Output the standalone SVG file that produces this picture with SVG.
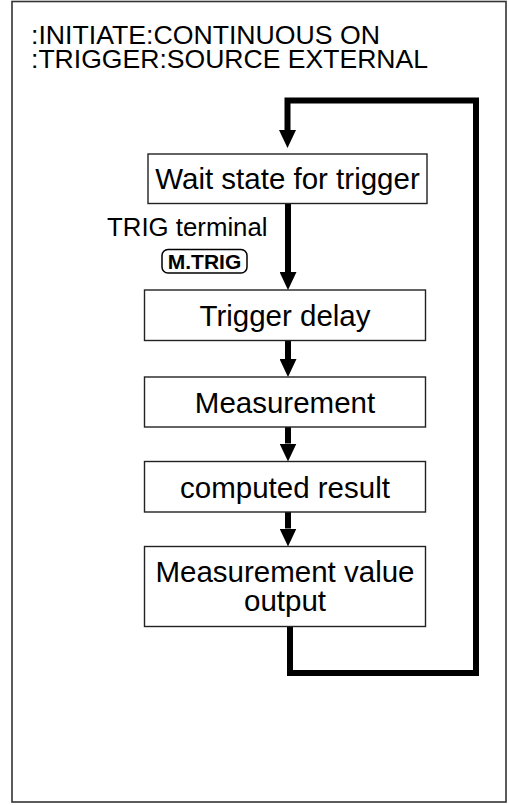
<svg xmlns="http://www.w3.org/2000/svg" width="509" height="805" viewBox="0 0 509 805">
<style>
.frame{fill:#fff;stroke:#333;stroke-width:1.6}
.box{fill:#fff;stroke:#222;stroke-width:1.4}
.t{font-family:"Liberation Sans",Arial,sans-serif;fill:#000}
.bt{font-size:29.5px;text-anchor:middle}
.conn{fill:none;stroke:#000;stroke-width:6;stroke-linejoin:miter;stroke-linecap:butt}
</style>
<defs>
<marker id="ah" viewBox="0 0 18 17" refX="0" refY="8.5" markerWidth="18" markerHeight="17" markerUnits="userSpaceOnUse" orient="auto">
<path d="M0,0 L18,8.5 L0,17 Z" fill="#000"/>
</marker>
</defs>
<rect class="frame" x="12" y="1.5" width="494" height="800.5"/>
<g id="title">
<text class="t" x="31" y="44" font-size="25" textLength="349" lengthAdjust="spacingAndGlyphs">:INITIATE:CONTINUOUS ON</text>
<text class="t" x="31" y="68" font-size="25" textLength="397" lengthAdjust="spacingAndGlyphs">:TRIGGER:SOURCE EXTERNAL</text>
</g>
<g id="connectors">
<path class="conn" d="M290,626 V673 H476 V100.5 H287.5 V130" marker-end="url(#ah)"/>
<path class="conn" d="M288,203.5 V272" marker-end="url(#ah)"/>
<path class="conn" d="M288,340.5 V359" marker-end="url(#ah)"/>
<path class="conn" d="M288,427 V443.5" marker-end="url(#ah)"/>
<path class="conn" d="M288,512 V528.5" marker-end="url(#ah)"/>
</g>
<g id="trig-label">
<text class="t" x="107" y="236" font-size="25.8">TRIG terminal</text>
</g>
<g id="mtrig">
<rect x="162" y="249.5" width="85" height="23.5" rx="6" fill="#fff" stroke="#000" stroke-width="1.5"/>
<text class="t" x="204.5" y="268.5" font-size="21" font-weight="bold" text-anchor="middle">M.TRIG</text>
</g>
<g id="wait">
<rect class="box" x="148" y="154" width="279" height="49.5"/>
<text class="t bt" x="287.5" y="189">Wait state for trigger</text>
</g>
<g id="delay">
<rect class="box" x="144.5" y="290" width="281" height="50.5"/>
<text class="t bt" x="285" y="326">Trigger delay</text>
</g>
<g id="measurement">
<rect class="box" x="144.5" y="377" width="281" height="50"/>
<text class="t bt" x="285" y="413">Measurement</text>
</g>
<g id="computed">
<rect class="box" x="144.5" y="461.5" width="281" height="50.5"/>
<text class="t bt" x="285" y="498">computed result</text>
</g>
<g id="output">
<rect class="box" x="144.5" y="546.5" width="281" height="80"/>
<text class="t bt" x="285" y="582">Measurement value</text>
<text class="t bt" x="285" y="610.5">output</text>
</g>
</svg>
